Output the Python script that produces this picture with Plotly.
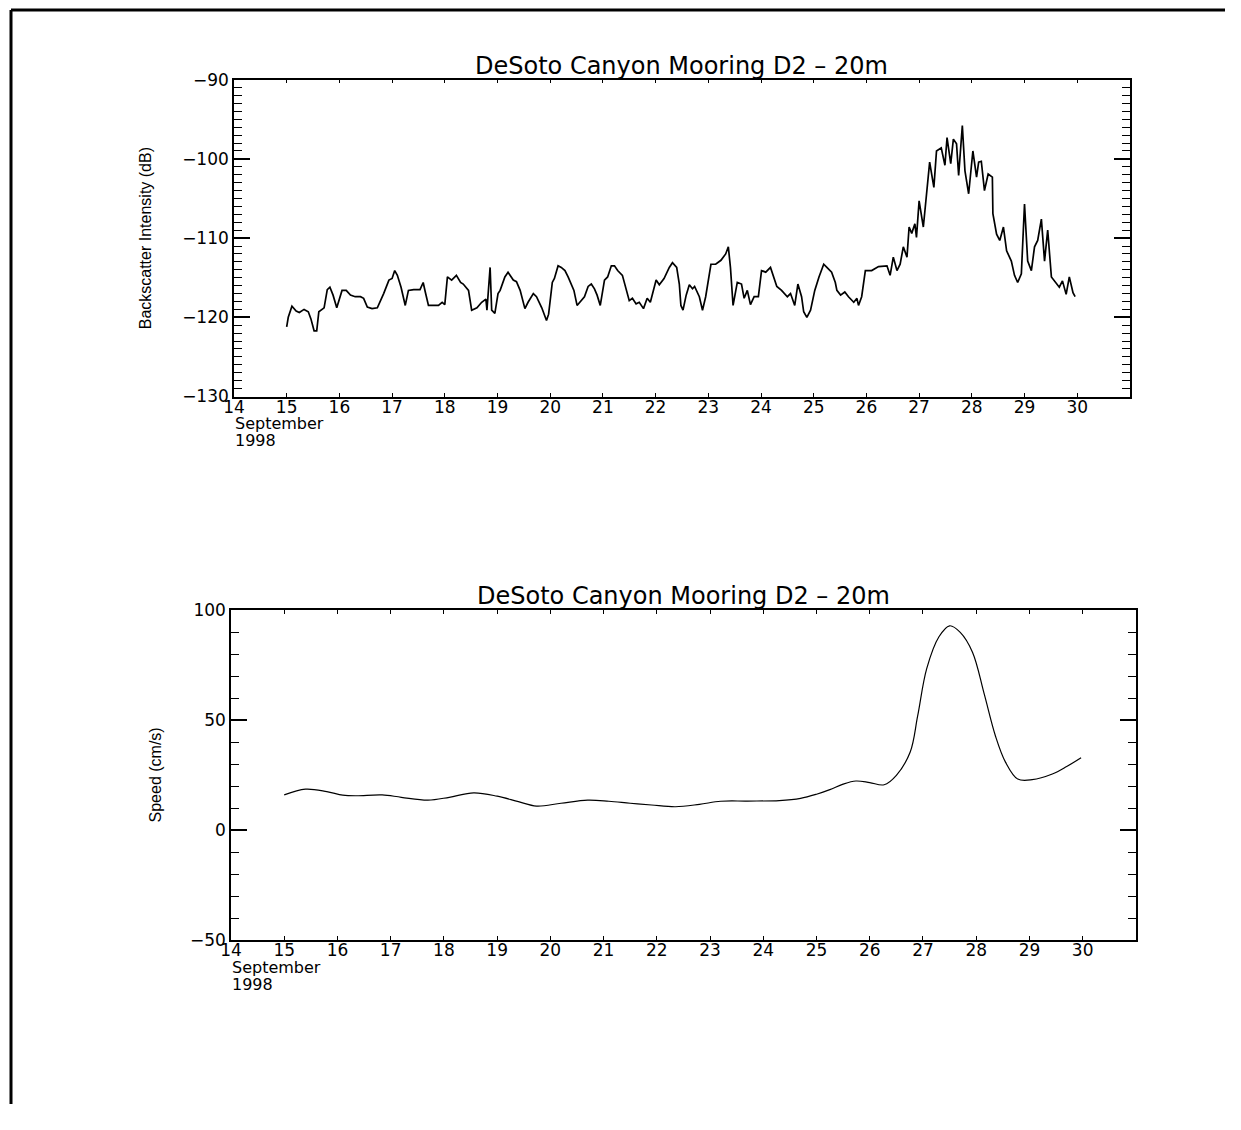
import plotly.graph_objects as go

PAGE_W, PAGE_H = 1241, 1130
PAD = 8                      # default page margin around the figure
W, H = PAGE_W - 2 * PAD, PAGE_H - 2 * PAD
# calibration of page pixels -> photographed pixels (measured from a previous render)
SX, OX = 0.9933, 1.56
SY, OY = 0.9826, 1.4

# ---- data: backscatter intensity (dB) vs day of September 1998 ----
bs_day = [15.00, 15.03, 15.10, 15.18, 15.24, 15.33, 15.41, 15.46, 15.52, 15.57, 15.61, 15.71, 15.77, 15.82, 15.88,
          15.95, 16.05, 16.13, 16.21, 16.30, 16.40, 16.46, 16.53, 16.62, 16.72, 16.77, 16.84, 16.94, 17.00, 17.05,
          17.10, 17.17, 17.25, 17.31, 17.41, 17.53, 17.59, 17.63, 17.69, 17.88, 17.95, 18.00, 18.05, 18.13, 18.22,
          18.30, 18.35, 18.45, 18.51, 18.61, 18.70, 18.78, 18.80, 18.86, 18.89, 18.95, 19.01, 19.05, 19.14, 19.20,
          19.30, 19.36, 19.43, 19.52, 19.58, 19.68, 19.74, 19.84, 19.93, 19.97, 20.04, 20.08, 20.15, 20.21, 20.28,
          20.34, 20.40, 20.45, 20.51, 20.59, 20.65, 20.72, 20.78, 20.84, 20.89, 20.95, 21.03, 21.09, 21.16, 21.22,
          21.28, 21.37, 21.45, 21.50, 21.56, 21.63, 21.69, 21.77, 21.84, 21.90, 22.01, 22.07, 22.16, 22.26, 22.32,
          22.40, 22.45, 22.48, 22.52, 22.58, 22.64, 22.70, 22.74, 22.83, 22.89, 22.95, 23.05, 23.14, 23.24, 23.33,
          23.38, 23.42, 23.47, 23.55, 23.63, 23.68, 23.74, 23.80, 23.87, 23.95, 24.01, 24.09, 24.18, 24.24, 24.30,
          24.39, 24.50, 24.56, 24.64, 24.70, 24.77, 24.81, 24.87, 24.94, 25.02, 25.10, 25.19, 25.25, 25.34, 25.41,
          25.44, 25.51, 25.59, 25.66, 25.76, 25.82, 25.85, 25.91, 25.98, 26.10, 26.23, 26.39, 26.45, 26.51, 26.58,
          26.64, 26.70, 26.77, 26.81, 26.86, 26.92, 26.95, 27.00, 27.08, 27.14, 27.20, 27.28, 27.33, 27.42, 27.49,
          27.53, 27.60, 27.65, 27.71, 27.75, 27.82, 27.87, 27.94, 28.02, 28.09, 28.13, 28.18, 28.24, 28.31, 28.39,
          28.40, 28.47, 28.53, 28.60, 28.66, 28.75, 28.81, 28.87, 28.94, 29.00, 29.06, 29.13, 29.19, 29.25, 29.32,
          29.38, 29.44, 29.51, 29.57, 29.66, 29.72, 29.79, 29.85, 29.92, 29.96]
bs_db = [-121.2, -120.0, -118.6, -119.2, -119.4, -119.0, -119.3, -120.2, -121.7, -121.7, -119.3, -118.8, -116.5, -116.2, -117.2,
         -118.8, -116.6, -116.6, -117.2, -117.4, -117.4, -117.6, -118.7, -118.9, -118.8, -118.1, -117.0, -115.3, -115.1, -114.1,
         -114.7, -116.2, -118.5, -116.6, -116.5, -116.5, -115.6, -116.8, -118.5, -118.5, -118.1, -118.4, -114.9, -115.3, -114.7,
         -115.6, -115.8, -116.6, -119.1, -118.8, -118.1, -117.7, -119.1, -113.7, -119.1, -119.5, -117.0, -116.6, -114.9, -114.3,
         -115.3, -115.5, -116.6, -118.9, -118.1, -117.0, -117.4, -118.8, -120.4, -119.6, -115.6, -115.1, -113.5, -113.7, -114.1,
         -114.9, -115.8, -116.6, -118.5, -117.9, -117.4, -116.1, -115.8, -116.4, -117.2, -118.5, -115.3, -114.9, -113.5, -113.5,
         -114.1, -114.7, -116.8, -117.9, -117.6, -118.3, -118.1, -118.9, -117.6, -118.1, -115.3, -115.9, -115.1, -113.7, -113.1,
         -113.7, -115.8, -118.5, -119.1, -117.2, -115.9, -116.4, -116.1, -117.4, -119.1, -117.4, -113.3, -113.3, -112.8, -112.0,
         -111.1, -113.7, -118.5, -115.6, -115.8, -117.6, -116.6, -118.4, -117.4, -117.4, -114.1, -114.3, -113.7, -114.9, -116.1,
         -116.6, -117.4, -117.0, -118.5, -115.8, -117.4, -119.3, -120.0, -119.1, -116.6, -114.9, -113.3, -113.7, -114.3, -115.6,
         -116.6, -117.2, -116.8, -117.4, -118.1, -117.6, -118.5, -117.4, -114.1, -114.1, -113.6, -113.5, -114.7, -112.4, -114.1,
         -113.3, -111.1, -112.4, -108.6, -109.4, -108.2, -109.9, -105.3, -108.6, -104.0, -100.4, -103.6, -99.0, -98.6, -100.8,
         -97.3, -100.6, -97.5, -98.1, -102.1, -95.8, -101.5, -104.4, -99.0, -102.3, -100.4, -100.3, -104.0, -101.9, -102.3,
         -106.9, -109.5, -110.3, -108.6, -111.6, -112.9, -114.7, -115.6, -114.5, -105.7, -112.9, -114.1, -111.1, -110.3, -107.6,
         -112.9, -109.0, -114.9, -115.4, -116.2, -115.4, -117.1, -114.9, -116.9, -117.4]

# ---- data: current speed (cm/s) ----
sp_day = [15.0, 15.4, 15.8, 16.1, 16.35, 16.84, 17.2, 17.7, 18.1, 18.56, 19.0, 19.4, 19.74, 20.2, 20.7, 21.1,
          21.5, 21.9, 22.35, 22.8, 23.2, 23.7, 24.3, 24.7, 25.0, 25.25, 25.5, 25.74, 26.0, 26.27, 26.5, 26.76,
          26.9, 27.07, 27.3, 27.5, 27.7, 27.93, 28.15, 28.36, 28.55, 28.78, 29.05, 29.43, 29.7, 29.97]
sp_cms = [16.1, 18.7, 17.6, 16.0, 15.7, 16.1, 15.0, 13.7, 15.0, 17.0, 15.5, 13.0, 11.0, 12.3, 13.7, 13.2,
          12.3, 11.5, 10.7, 11.8, 13.2, 13.3, 13.5, 14.5, 16.4, 18.5, 21.0, 22.4, 21.7, 20.7, 25.0, 35.6,
          52.0, 73.5, 88.0, 93.0, 90.0, 81.0, 62.0, 43.0, 31.0, 23.3, 23.0, 25.6, 29.0, 33.0]

day_ticks = list(range(14, 31))
title_text = "DeSoto Canyon Mooring D2 \u2013 20m"
month_label = "September"
year_label = "1998"

# layout geometry (target pixels in the final picture)
top_box = dict(x0=233, x1=1131, y0=79, y1=396)
bot_box = dict(x0=230, x1=1137, y0=610, y1=940)


def px(xpix):
    return ((xpix - OX) / SX - PAD) / W


def py(ypix):
    return 1 - ((ypix - OY) / SY - PAD) / H


def xdom(b):
    return [px(b["x0"]), px(b["x1"])]


def ydom(b):
    return [py(b["y1"]), py(b["y0"])]


TICKFONT = dict(family="DejaVu Sans", size=17, color="black")

fig = go.Figure()
fig.add_trace(go.Scatter(x=bs_day, y=bs_db, mode="lines", line=dict(color="black", width=1.7),
                         xaxis="x", yaxis="y", showlegend=False))
fig.add_trace(go.Scatter(x=sp_day, y=sp_cms, mode="lines", line=dict(color="black", width=1.2, shape="spline", smoothing=1.0),
                         xaxis="x2", yaxis="y2", showlegend=False))

xcommon = dict(range=[14, 31], tickmode="array", tickvals=day_ticks, ticktext=[str(d) for d in day_ticks],
               ticks="inside", ticklen=4, tickwidth=1, tickcolor="black", showline=True, linecolor="black",
               linewidth=1.5, mirror="ticks", showgrid=False, zeroline=False, tickfont=TICKFONT,
               ticklabelstandoff=-6)
ycommon = dict(ticks="inside", ticklen=16, tickwidth=1.5, tickcolor="black", showline=True, linecolor="black",
               linewidth=1.5, mirror="ticks", showgrid=False, zeroline=False, tickfont=TICKFONT)

fig.update_layout(
    width=W, height=H, margin=dict(l=0, r=0, t=0, b=0),
    paper_bgcolor="white", plot_bgcolor="white",
    xaxis=dict(domain=xdom(top_box), anchor="y", **xcommon),
    yaxis=dict(domain=ydom(top_box), anchor="x", range=[-130, -90], tickvals=[-130, -120, -110, -100, -90],
               minor=dict(dtick=1, ticklen=8, tickcolor="black", ticks="inside", tickwidth=1), **ycommon),
    xaxis2=dict(domain=xdom(bot_box), anchor="y2", **xcommon),
    yaxis2=dict(domain=ydom(bot_box), anchor="x2", range=[-50, 100], tickvals=[-50, 0, 50, 100],
                minor=dict(dtick=10, ticklen=8, tickcolor="black", ticks="inside", tickwidth=1), **ycommon),
)

TITLEFONT = dict(family="DejaVu Sans", size=24, color="black")
SUBFONT = dict(family="DejaVu Sans", size=16, color="black")
ann = []
for b in (top_box, bot_box):
    ann.append(dict(text=title_text, xref="paper", yref="paper", x=px((b["x0"] + b["x1"]) / 2),
                    y=py(b["y0"] - 14), xanchor="center", yanchor="middle", showarrow=False, font=TITLEFONT))
    ann.append(dict(text=month_label, xref="paper", yref="paper", x=px(b["x0"] - 1),
                    y=py(b["y1"] + 27), xanchor="left", yanchor="middle", showarrow=False, font=SUBFONT))
    ann.append(dict(text=year_label, xref="paper", yref="paper", x=px(b["x0"] - 1),
                    y=py(b["y1"] + 44), xanchor="left", yanchor="middle", showarrow=False, font=SUBFONT))

YLABFONT = dict(family="Liberation Sans, Arial", size=16, color="black")
ann.append(dict(text="Backscatter Intensity (dB)", xref="paper", yref="paper", x=px(144),
                y=py((top_box["y0"] + top_box["y1"]) / 2), textangle=-90, showarrow=False,
                xanchor="center", yanchor="middle", font=YLABFONT))
ann.append(dict(text="Speed (cm/s)", xref="paper", yref="paper", x=px(154),
                y=py((bot_box["y0"] + bot_box["y1"]) / 2), textangle=-90, showarrow=False,
                xanchor="center", yanchor="middle", font=YLABFONT))
fig.update_layout(annotations=ann)

# page border (top and left edges of the scanned page), as close to the page corner as the figure allows
fig.update_layout(shapes=[
    dict(type="line", xref="paper", yref="paper", x0=0, x1=1, y0=1, y1=1,
         line=dict(color="black", width=3)),
    dict(type="line", xref="paper", yref="paper", x0=0, x1=0, y0=0, y1=1,
         line=dict(color="black", width=3)),
])

fig.write_html("out.html")
